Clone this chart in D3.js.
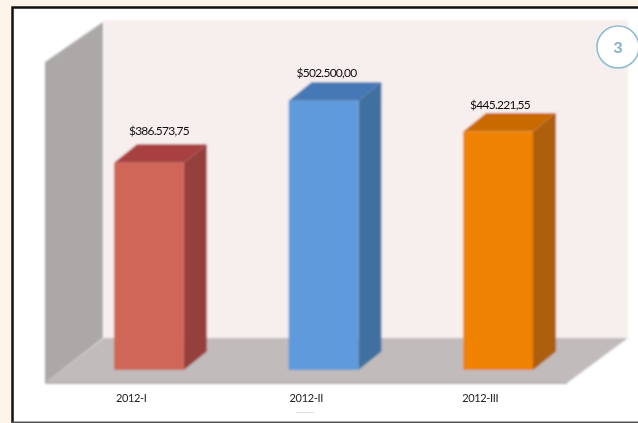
<!DOCTYPE html>
<html><head><meta charset="utf-8">
<script src="https://cdn.jsdelivr.net/npm/d3@7"></script>
<style>html,body{margin:0;padding:0;background:#fdf5ec}svg{display:block}text{font-family:Lato,"Open Sans",sans-serif}</style>
</head><body><svg id="c" width="638" height="423"></svg>
<script>
const categories = ["2012-I","2012-II","2012-III"];
const values = [386573.75,502500,445221.55];
const valueLabels = ["$386.573,75","$502.500,00","$445.221,55"];
const frontColors = ["#cf6659","#5f9bdc","#ef8205"];
const topColors = ["#a8403f","#4478b4","#c96a05"];
const sideColors = ["#96413c","#41709f","#ae5f0c"];
const badge = "3";

const W=638,H=423, base=370, dx=23, dy=-18.5;
const labelNudgeX=[10,3,2], labelNudgeY=[0,4,5], catNudgeX=[2,1,-1];
const svg=d3.select("#c");
const x=d3.scaleBand().domain(categories).range([114,533]).paddingInner(0.6).paddingOuter(0);
const y=d3.scaleLinear().domain([0,600000]).range([base,base-321.5]);
const line=d3.line();

const defs=svg.append("defs");
defs.append("filter").attr("id","soft").append("feGaussianBlur").attr("stdDeviation",0.8);
defs.append("filter").attr("id","soft2").append("feGaussianBlur").attr("stdDeviation",0.45);

svg.append("rect").attr("x",11).attr("y",6).attr("width",W-11).attr("height",H-6).attr("fill","#fff");
const box=svg.append("g");
box.append("path").attr("d",line([[12.5,423],[12.5,7.5],[638,7.5]])).attr("fill","none").attr("stroke","#111").attr("stroke-width",2.5);
box.append("line").attr("x1",12).attr("x2",638).attr("y1",422.2).attr("y2",422.2).attr("stroke","#555").attr("stroke-width",1.6);

const scene=svg.append("g").attr("filter","url(#soft)");
scene.append("rect").attr("x",104).attr("y",20).attr("width",524).attr("height",318).attr("fill","#f7efed");
scene.append("path").attr("d",line([[45,383],[104,338],[628,338],[567,383]])+"Z").attr("fill","#c1bbbc");
scene.append("path").attr("d",line([[45,62],[103,22],[103,338],[45,383]])+"Z").attr("fill","#aca8a8");
scene.append("line").attr("x1",45).attr("x2",567).attr("y1",383).attr("y2",383).attr("stroke","#a5a1a2").attr("stroke-width",1.5);

const bars=scene.selectAll("g.bar").data(categories).join("g").attr("class","bar");
bars.append("path").attr("fill",(d,i)=>topColors[i]).attr("d",(d,i)=>{
  const a=x(d),b=a+x.bandwidth(),t=y(values[i]);
  return line([[a,t],[a+dx,t+dy],[b+dx,t+dy],[b,t]])+"Z";});
bars.append("path").attr("fill",(d,i)=>sideColors[i]).attr("d",(d,i)=>{
  const b=x(d)+x.bandwidth(),t=y(values[i]);
  return line([[b,t],[b+dx,t+dy],[b+dx,base+dy],[b,base]])+"Z";});
bars.append("rect").attr("x",d=>x(d)).attr("width",x.bandwidth()).attr("y",(d,i)=>y(values[i])).attr("height",(d,i)=>base-y(values[i])).attr("fill",(d,i)=>frontColors[i]);

const labels=svg.append("g").attr("filter","url(#soft2)");
labels.selectAll("text.v").data(categories).join("text").attr("class","v")
 .attr("x",(d,i)=>x(d)+x.bandwidth()/2+labelNudgeX[i]).attr("y",(d,i)=>y(values[i])+dy-9+labelNudgeY[i])
 .attr("text-anchor","middle").attr("font-size",12).attr("letter-spacing",-0.75).attr("fill","#111")
 .text((d,i)=>valueLabels[i]);
labels.selectAll("text.c").data(categories).join("text").attr("class","c")
 .attr("x",(d,i)=>x(d)+catNudgeX[i]).attr("y",402)
 .attr("font-size",11).attr("letter-spacing",-0.35).attr("fill","#222")
 .text(d=>d);

const b=svg.append("g");
b.append("circle").attr("cx",618).attr("cy",47).attr("r",21).attr("fill","#fff").attr("stroke","#8fbcd4").attr("stroke-width",1.6);
b.append("text").attr("x",618).attr("y",53).attr("text-anchor","middle").attr("font-size",16).attr("font-weight",700).attr("fill","#86b1ca").text(badge);
svg.append("line").attr("x1",296).attr("x2",314).attr("y1",412.5).attr("y2",412.5).attr("stroke","#ddd").attr("stroke-width",1);
</script></body></html>
